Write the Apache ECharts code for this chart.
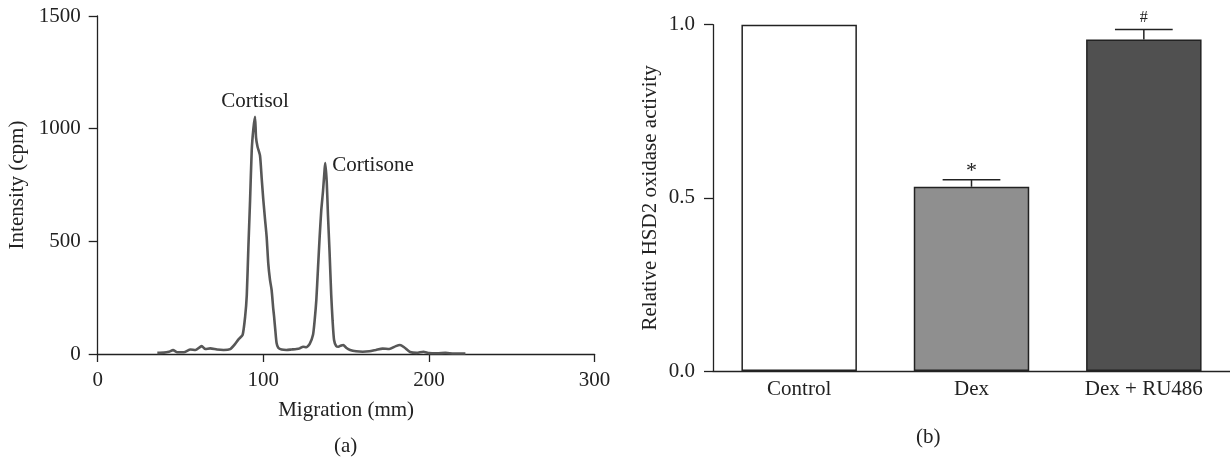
<!DOCTYPE html>
<html>
<head>
<meta charset="utf-8">
<script src="https://cdn.jsdelivr.net/npm/echarts@6/dist/echarts.min.js"></script>
<style>
html,body{margin:0;padding:0;background:#fff;}
#chart{width:1230px;height:461px;}
</style>
</head>
<body>
<div id="chart"></div>
<script>
// Panel (a): radio-chromatogram
var migration = [36,40,43,45.5,48,52,56,59,62.8,65,68,72,76,80,83,85,87.5,89,90,91,92,93,94,95,95.6,96.5,98,99,100,101,102,103,104,105,106,106.5,107.3,108,109,111,114,117,120,122,124,126,128,130,131,132,133,134,135,136,137,137.4,138.3,139,140,141,141.8,142.7,144,145.3,147,148.3,150,152.4,156,160,164,168,172,176,180,182.5,185,188.6,192.6,196.6,200,205,210,215,222];
var intensity = [5,6,10,17,8,8,20,18,35,22,25,20,18,22,45,65,85,165,260,480,683,905,1000,1053,960,920,880,780,683,600,520,400,330,284,200,166,100,49,28,20,18,20,22,25,32,30,45,85,150,240,380,520,640,720,820,847,760,620,450,260,150,62,35,32,38,40,28,18,12,10,12,18,24,22,35,40,30,9,5,10,4,3,5,2,2];
var peakNames = ['Cortisol','Cortisone'];
var peakMigration = [95,137.4];
var peakIntensity = [1053,847];
var xTicksA = [0,100,200,300];
var yTicksA = [0,500,1000,1500];

// Panel (b): relative activity
var groups = ['Control','Dex','Dex + RU486'];
var activity = [1.0,0.532,0.957];
var sem = [0,0.02,0.029];
var marks = ['','*','#'];
var yTicksB = [0.0,0.5,1.0];

var serif = 'Liberation Serif';
var FS = 21;
var txt = {fontFamily: serif, fontSize: FS, color: '#222'};
var axisLine = {show: true, lineStyle: {color: '#222', width: 1.3}};
var axisTick = {show: true, length: 9, lineStyle: {color: '#222', width: 1.3}};

var lineData = migration.map(function (m, i) { return [m, intensity[i]]; });
var barColors = ['#ffffff','#8f8f8f','#505050'];

var chart = echarts.init(document.getElementById('chart'));
chart.setOption({
  animation: false,
  backgroundColor: '#fff',
  grid: [
    {left: 97.7, right: 635.4, top: 16, bottom: 107},
    {left: 713, width: 521, top: 24.7, bottom: 90}
  ],
  xAxis: [
    {gridIndex: 0, type: 'value', min: xTicksA[0], max: xTicksA[xTicksA.length-1], interval: 100,
     splitLine: {show: false}, axisLine: axisLine, axisTick: {show: true, length: 8, lineStyle: {color: '#222', width: 1.3}},
     axisLabel: Object.assign({margin: 16, formatter: function (v) { return String(v); }}, txt),
     name: 'Migration (mm)', nameLocation: 'middle', nameGap: 46, nameTextStyle: txt},
    {gridIndex: 1, type: 'category', data: groups, axisLine: axisLine, axisTick: {show: false},
     axisLabel: Object.assign({margin: 8}, txt)}
  ],
  yAxis: [
    {gridIndex: 0, type: 'value', min: yTicksA[0], max: yTicksA[yTicksA.length-1], interval: 500,
     splitLine: {show: false}, axisLine: axisLine, axisTick: axisTick,
     axisLabel: Object.assign({margin: 17, formatter: function (v) { return String(v); }}, txt),
     name: 'Intensity (cpm)', nameLocation: 'middle', nameGap: 70, nameTextStyle: txt},
    {gridIndex: 1, type: 'value', min: yTicksB[0], max: yTicksB[yTicksB.length-1], interval: 0.5,
     splitLine: {show: false}, axisLine: axisLine, axisTick: axisTick,
     axisLabel: Object.assign({margin: 18, formatter: function (v) { return v.toFixed(1); }}, txt),
     name: 'Relative HSD2 oxidase activity', nameLocation: 'middle', nameGap: 52, nameTextStyle: txt}
  ],
  series: [
    {type: 'line', xAxisIndex: 0, yAxisIndex: 0, data: lineData, showSymbol: false, smooth: 0.2,
     lineStyle: {color: '#575757', width: 2.6}, z: 3,
     markPoint: {
       symbol: 'circle', symbolSize: 0,
       data: [
         {coord: [peakMigration[0], peakIntensity[0]], label: {show: true, formatter: peakNames[0], position: 'top', distance: 5, fontFamily: serif, fontSize: FS, color: '#222'}},
         {coord: [peakMigration[1], peakIntensity[1]], label: {show: true, formatter: peakNames[1], position: 'right', distance: 7, offset: [0, 2], fontFamily: serif, fontSize: FS, color: '#222'}}
       ]
     }},
    {type: 'bar', xAxisIndex: 1, yAxisIndex: 1, barWidth: '67%',
     data: activity.map(function (v, i) {
       return {value: v, itemStyle: {color: barColors[i], borderColor: '#222', borderWidth: 1.5}};
     }), z: 2},
    {type: 'custom', xAxisIndex: 1, yAxisIndex: 1, z: 4,
     data: activity.map(function (v, i) { return [i, v, v + sem[i], marks[i]]; }),
     renderItem: function (params, api) {
       var i = api.value(0);
       if (!sem[i]) return null;
       var base = api.coord([i, api.value(1)]);
       var top = api.coord([i, api.value(2)]);
       var capHalf = api.size([1, 0])[0] * 0.67 / 4;
       var isStar = marks[i] === '*';
       return {type: 'group', children: [
         {type: 'line', shape: {x1: base[0], y1: base[1], x2: top[0], y2: top[1]}, style: {stroke: '#222', lineWidth: 1.5}},
         {type: 'line', shape: {x1: top[0]-capHalf, y1: top[1], x2: top[0]+capHalf, y2: top[1]}, style: {stroke: '#222', lineWidth: 1.5}},
         {type: 'text', style: {text: marks[i], x: top[0], y: top[1] - (isStar ? -2 : 4), align: 'center', verticalAlign: 'bottom', fontFamily: serif, fontSize: isStar ? 22 : 16, fill: '#222'}}
       ]};
     }}
  ],
  graphic: [
    {type: 'text', left: 346 - 12, top: 436, style: {text: '(a)', fontFamily: serif, fontSize: FS, fill: '#222'}},
    {type: 'text', left: 928 - 12, top: 427, style: {text: '(b)', fontFamily: serif, fontSize: FS, fill: '#222'}}
  ]
});
</script>
</body>
</html>
